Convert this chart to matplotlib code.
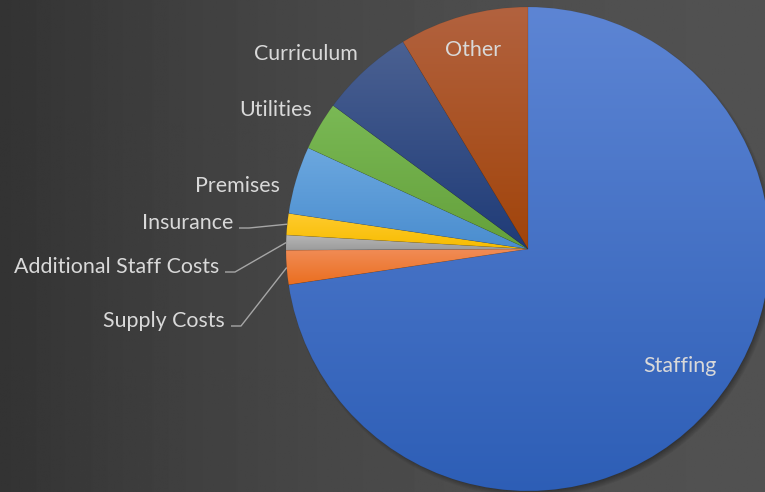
import numpy as np
import matplotlib
matplotlib.use("Agg")
import matplotlib.pyplot as plt
from matplotlib.colors import to_rgb
from matplotlib.patches import Circle

categories = ["Staffing", "Supply Costs", "Additional Staff Costs", "Insurance",
              "Premises", "Utilities", "Curriculum", "Other"]
shares = [72.64, 2.28, 1.00, 1.43, 4.51, 3.24, 6.26, 8.64]

# gradient colours per slice (top of slice -> bottom of slice)
top_colours = ["#5D85D4", "#F18C56", "#B8B8B8", "#FFCB2E",
               "#6CA8DF", "#7AB955", "#4B6192", "#B2623F"]
bottom_colours = ["#2D5EB6", "#EA6E1F", "#9C9C9C", "#F7BC00",
                  "#4A8DCF", "#64A03B", "#1F3B77", "#A1440A"]

W, H = 765, 492
text_col = "#D9D9D9"
plt.rcParams['font.family'] = ['Lato', 'DejaVu Sans']


def py(y):
    # picture rows are counted from the top
    return H - y


fig = plt.figure(figsize=(W / 100, H / 100), dpi=100)
ax = fig.add_axes([0, 0, 1, 1])

# dark background, lighter towards the right
xs = np.linspace(0, 1, 500)
v = (51 + 30 * (1 - (1 - xs) ** 2)) / 255
ax.imshow(np.tile(v, (2, 1)), cmap="gray", vmin=0, vmax=1,
          extent=[0, W, 0, H], aspect="auto", zorder=0)

cx, cy, r = 528, py(249), 242

# soft shadow, down and to the right
for i in range(7):
    ax.add_patch(Circle((cx + 3, cy - 4), r + 2 - i, color="black",
                        alpha=0.05, lw=0, zorder=1))

wedges, _ = ax.pie(shares, center=(cx, cy), radius=r, startangle=90,
                   counterclock=False)

for w, ct, cb in zip(wedges, top_colours, bottom_colours):
    verts = w.get_path().vertices
    x0, y0 = verts.min(axis=0)
    x1, y1 = verts.max(axis=0)
    t = np.linspace(0, 1, 256)[:, None, None]
    img = (1 - t) * np.array(to_rgb(cb)) + t * np.array(to_rgb(ct))
    im = ax.imshow(img, extent=[x0, x1, y0, y1], origin="lower",
                   aspect="auto", zorder=2, interpolation="bilinear")
    im.set_clip_path(w)
    w.set_facecolor("none")
    w.set_edgecolor((0, 0, 0, 0.08))
    w.set_linewidth(0.4)
    w.set_zorder(3)

fs = 15.4
# labels: x, baseline y (picture rows), alignment
label_pos = {
    "Staffing": (680, 372, "center"),
    "Other": (473, 56, "center"),
    "Curriculum": (306, 60, "center"),
    "Utilities": (276, 116, "center"),
    "Premises": (237, 192, "center"),
    "Insurance": (233, 229, "right"),
    "Additional Staff Costs": (219, 273, "right"),
    "Supply Costs": (225, 327, "right"),
}
for name in categories:
    x, yb, ha = label_pos[name]
    ax.text(x, py(yb), name, ha=ha, va="baseline", fontsize=fs,
            color=text_col, zorder=5)

# leader lines for the thin slices
for name in ["Supply Costs", "Additional Staff Costs", "Insurance"]:
    w = wedges[categories.index(name)]
    mid = np.deg2rad((w.theta1 + w.theta2) / 2)
    ex, ey = cx + r * np.cos(mid), cy + r * np.sin(mid)
    x, yb, _ = label_pos[name]
    ly = py(yb - 1)
    ax.plot([x + 6, x + 16, ex], [ly, ly, ey], color="#A6A6A6", lw=1,
            zorder=4, solid_capstyle="butt")

ax.set_xlim(0, W)
ax.set_ylim(0, H)
ax.set_aspect("equal")
ax.axis("off")

fig.savefig("out.png", dpi=100)
